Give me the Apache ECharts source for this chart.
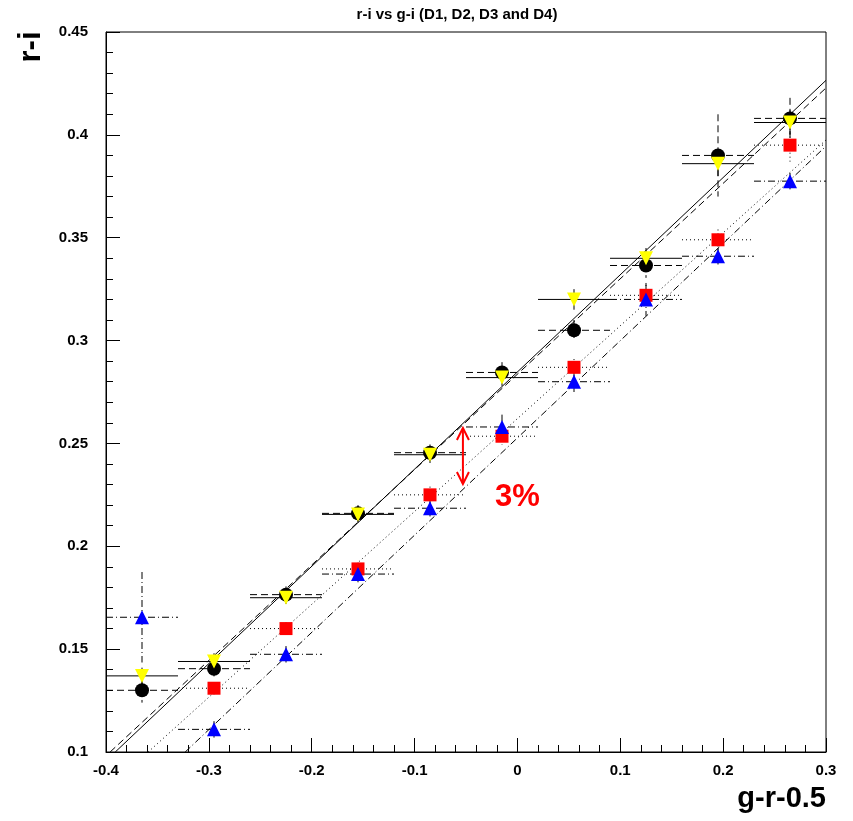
<!DOCTYPE html>
<html><head><meta charset="utf-8">
<script src="https://cdn.jsdelivr.net/npm/echarts@6/dist/echarts.min.js"></script>
<style>html,body{margin:0;padding:0;background:#fff}#c{width:853px;height:821px}</style>
</head><body><div id="c"></div>
<script>
// ---- data ----
const xCenters = [-0.365, -0.295, -0.225, -0.155, -0.085, -0.015, 0.055, 0.125, 0.195, 0.265];
const xHalfWidth = 0.035;
const d1Y   = [0.130, 0.1405, 0.1765, 0.216, 0.2455, 0.2845, 0.305, 0.3365, 0.390, 0.408];
const d1Err = [0.006, 0.005, 0.004, 0.004, 0.004, 0.005, 0.005, 0.006, 0.020, 0.010];
const d2Y   = [0.137, 0.144, 0.175, 0.2155, 0.2445, 0.282, 0.320, 0.340, 0.386, 0.406];
const d2Err = [0.004, 0.004, 0.003, 0.004, 0.004, 0.004, 0.005, 0.005, 0.006, 0.006];
const d3Y   = [null, 0.131, 0.160, 0.189, 0.225, 0.2535, 0.287, 0.322, 0.349, 0.395];
const d3Err = [0, 0.003, 0.003, 0.003, 0.004, 0.004, 0.004, 0.005, 0.005, 0.008];
const d4Y   = [0.1655, 0.111, 0.1475, 0.1865, 0.2185, 0.258, 0.280, 0.320, 0.341, 0.3775];
const d4Err = [0.022, 0.004, 0.004, 0.004, 0.004, 0.006, 0.005, 0.008, 0.004, 0.004];
// fitted lines (end points)
const fitSolid   = [[-0.391, 0.1], [0.3, 0.4265]];
const fitDashed  = [[-0.396, 0.1], [0.3, 0.4228]];
const fitDotted  = [[-0.359, 0.1], [0.3, 0.3975]];
const fitDashDot = [[-0.323, 0.1], [0.3, 0.3945]];
// annotation
const arrowX = -0.053, arrowY0 = 0.2303, arrowY1 = 0.2575;
const noteText = '3%', notePos = [0.0, 0.2235];
const titleText = 'r-i vs g-i (D1, D2, D3 and D4)';
const xName = 'g-r-0.5', yName = 'r-i';

const DASH = [7, 4], DOT = [1, 3], DASHDOT = [7, 3, 1, 3];
const FONT = '"Liberation Sans", Arial, sans-serif';

function pts(ys, errs) {
  const out = [];
  xCenters.forEach((x, i) => { if (ys[i] != null) out.push([x, ys[i], errs[i]]); });
  return out;
}

function errSeries(ys, errs, dash) {
  return {
    type: 'custom', silent: true, clip: true, z: 3,
    data: pts(ys, errs),
    renderItem: function (params, api) {
      const x = api.value(0), y = api.value(1), e = api.value(2);
      const l = api.coord([x - xHalfWidth, y]), r = api.coord([x + xHalfWidth, y]);
      const t = api.coord([x, y + e]), b = api.coord([x, y - e]);
      const st = { stroke: '#000', lineWidth: 1, lineDash: dash, fill: null };
      return { type: 'group', children: [
        { type: 'line', shape: { x1: l[0], y1: l[1], x2: r[0], y2: r[1] }, style: st },
        { type: 'line', shape: { x1: t[0], y1: t[1], x2: b[0], y2: b[1] }, style: st }
      ]};
    }
  };
}

function markerSeries(ys, errs, symbol, size, color, rotate) {
  return {
    type: 'scatter', silent: true, z: 5,
    data: pts(ys, errs).map(p => [p[0], p[1]]),
    symbol: symbol, symbolSize: size, symbolRotate: rotate || 0,
    itemStyle: { color: color, opacity: 1 }
  };
}

function fitSeries(data, dash) {
  return {
    type: 'line', silent: true, z: 2, data: data, symbol: 'none',
    lineStyle: { color: '#000', width: 1, type: dash }
  };
}

const option = {
  animation: false,
  backgroundColor: '#fff',
  title: {
    text: titleText, left: 452, top: 2, textAlign: 'center',
    textStyle: { fontFamily: FONT, fontSize: 15, fontWeight: 'bold', color: '#000' }
  },
  graphic: [
    { type: 'text', x: 31, y: 47, rotation: Math.PI / 2,
      style: { text: yName, font: 'bold 31px ' + FONT, fill: '#000', align: 'center', verticalAlign: 'middle' } },
    { type: 'text', x: 826, y: 799,
      style: { text: xName, font: 'bold 29px ' + FONT, fill: '#000', align: 'right', verticalAlign: 'middle' } }
  ],
  grid: { left: 106, right: 27, top: 32, bottom: 69, show: true, borderColor: '#000', borderWidth: 1, backgroundColor: 'transparent' },
  xAxis: {
    type: 'value', min: -0.4, max: 0.3, interval: 0.1,
    axisLine: { show: true, onZero: false, lineStyle: { color: '#000' } },
    axisTick: { show: true, inside: true, length: 14, lineStyle: { color: '#000' } },
    minorTick: { show: true, splitNumber: 5, length: 7, lineStyle: { color: '#000' } },
    splitLine: { show: false },
    axisLabel: { margin: 11, fontFamily: FONT, fontSize: 15, fontWeight: 'bold', color: '#000',
      formatter: v => (Math.round(v * 10) / 10).toString() }
  },
  yAxis: {
    type: 'value', min: 0.1, max: 0.45, interval: 0.05,
    axisLine: { show: true, onZero: false, lineStyle: { color: '#000' } },
    axisTick: { show: true, inside: true, length: 14, lineStyle: { color: '#000' } },
    minorTick: { show: true, splitNumber: 5, length: 7, lineStyle: { color: '#000' } },
    splitLine: { show: false },
    axisLabel: { margin: 18, fontFamily: FONT, fontSize: 15, fontWeight: 'bold', color: '#000',
      formatter: v => (Math.round(v * 100) / 100).toString() }
  },
  series: [
    fitSeries(fitSolid, 'solid'),
    fitSeries(fitDashed, DASH),
    fitSeries(fitDotted, DOT),
    fitSeries(fitDashDot, DASHDOT),
    errSeries(d1Y, d1Err, DASH),
    errSeries(d2Y, d2Err, null),
    errSeries(d3Y, d3Err, DOT),
    errSeries(d4Y, d4Err, DASHDOT),
    markerSeries(d1Y, d1Err, 'circle', 14, '#000'),
    markerSeries(d2Y, d2Err, 'triangle', 14, '#ffff00', 180),
    markerSeries(d3Y, d3Err, 'rect', 13, '#ff0000'),
    markerSeries(d4Y, d4Err, 'triangle', 14, '#0000ff'),
    {
      type: 'custom', silent: true, z: 6, clip: false,
      data: [[arrowX, arrowY0, arrowY1]],
      renderItem: function (params, api) {
        const b = api.coord([api.value(0), api.value(1)]);
        const t = api.coord([api.value(0), api.value(2)]);
        const st = { stroke: '#ff0000', lineWidth: 2, fill: null };
        const h = 12, w = 6;
        return { type: 'group', children: [
          { type: 'line', shape: { x1: b[0], y1: b[1], x2: t[0], y2: t[1] }, style: st },
          { type: 'polyline', shape: { points: [[t[0] - w, t[1] + h], [t[0], t[1]], [t[0] + w, t[1] + h]] }, style: st },
          { type: 'polyline', shape: { points: [[b[0] - w, b[1] - h], [b[0], b[1]], [b[0] + w, b[1] - h]] }, style: st }
        ]};
      }
    },
    {
      type: 'custom', silent: true, z: 6, clip: false,
      data: [notePos],
      renderItem: function (params, api) {
        const p = api.coord([api.value(0), api.value(1)]);
        return { type: 'text', x: p[0], y: p[1], style: { text: noteText, fill: '#ff0000',
          font: 'bold 31px ' + FONT, align: 'center', verticalAlign: 'middle' } };
      }
    }
  ]
};
const chart = echarts.init(document.getElementById('c'), null, { renderer: 'canvas' });
chart.setOption(option);
</script>
</body></html>
